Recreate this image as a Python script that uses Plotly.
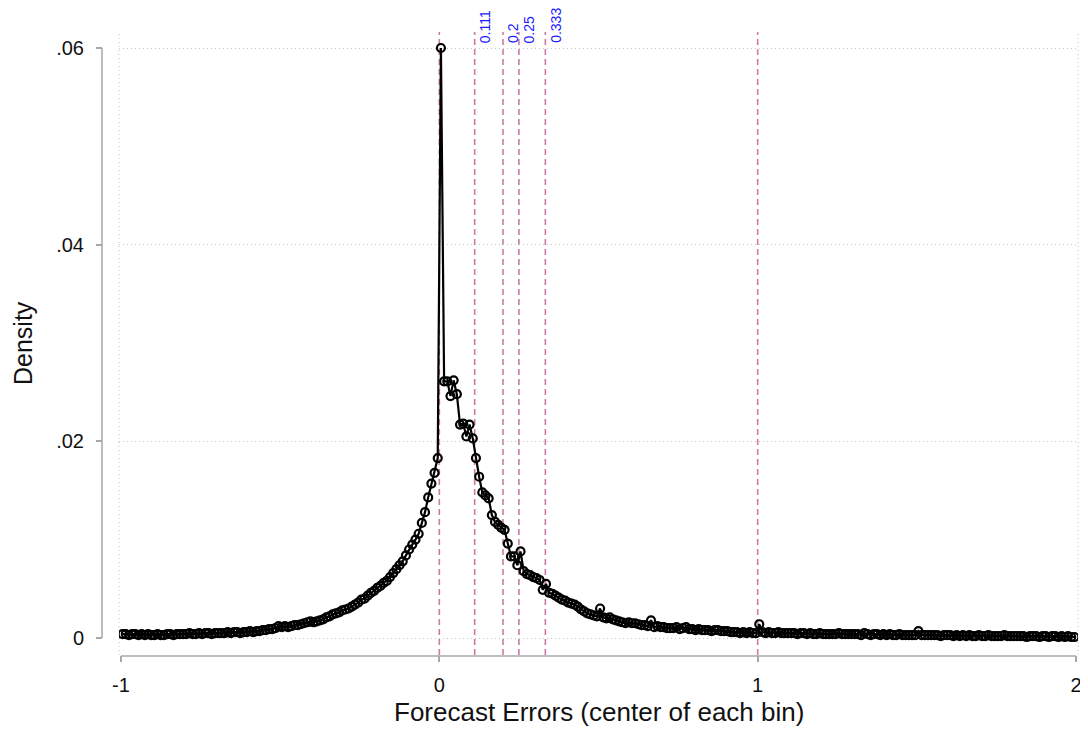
import plotly.graph_objects as go

# ---- data ----
bin_lo = -1.0
bin_width = 0.01

# density per bin, x from -0.995 to -0.005
density_neg = [
    0.0004, 0.0004, 0.0003, 0.0004, 0.0004, 0.0003, 0.0004, 0.0003, 0.0004, 0.0003,
    0.0003, 0.0004, 0.0003, 0.0003, 0.0004, 0.0004, 0.0003, 0.0004, 0.0004, 0.0004,
    0.0004, 0.0005, 0.0004, 0.0004, 0.0005, 0.0004, 0.0005, 0.0005, 0.0004, 0.0005,
    0.0005, 0.0005, 0.0005, 0.0006, 0.0005, 0.0006, 0.0006, 0.0005, 0.0006, 0.0006,
    0.0007, 0.0006, 0.0007, 0.0007, 0.0008, 0.0008, 0.0009, 0.0009, 0.0010, 0.0012,
    0.0011, 0.0012, 0.0011, 0.0012, 0.0013, 0.0013, 0.0014, 0.0015, 0.0016, 0.0017,
    0.0016, 0.0017, 0.0018, 0.0019, 0.0021, 0.0022, 0.0024, 0.0025, 0.0026, 0.0028,
    0.0029, 0.0030, 0.0032, 0.0034, 0.0036, 0.0039, 0.0040, 0.0043, 0.0046, 0.0048,
    0.0051, 0.0053, 0.0056, 0.0058, 0.0062, 0.0066, 0.0070, 0.0074, 0.0078, 0.0084,
    0.0090, 0.0095, 0.0100, 0.0106, 0.0117, 0.0128, 0.0143, 0.0157, 0.0168, 0.0183,
]

# density per bin, x from 0.005 to 1.995
density_pos = [
    0.0600, 0.0261, 0.0261, 0.0246, 0.0262, 0.0248, 0.0217, 0.0218, 0.0205, 0.0217,
    0.0203, 0.0183, 0.0164, 0.0148, 0.0145, 0.0142, 0.0125, 0.0118, 0.0115, 0.0112,
    0.0110, 0.0096, 0.0083, 0.0083, 0.0074, 0.0088, 0.0068, 0.0065, 0.0064, 0.0062,
    0.0061, 0.0059, 0.0049, 0.0055, 0.0046, 0.0045, 0.0043, 0.0041, 0.0039, 0.0038,
    0.0036, 0.0035, 0.0034, 0.0032, 0.0029, 0.0027, 0.0025, 0.0024, 0.0023, 0.0022,
    0.0030, 0.0021, 0.0020, 0.0021, 0.0019, 0.0018, 0.0017, 0.0016, 0.0015, 0.0016,
    0.0015, 0.0015, 0.0014, 0.0013, 0.0013, 0.0012, 0.0018, 0.0011, 0.0012, 0.0011,
    0.0011, 0.0010, 0.0010, 0.0010, 0.0011, 0.0009, 0.0010, 0.0011, 0.0009, 0.0009,
    0.0008, 0.0009, 0.0008, 0.0008, 0.0008, 0.0007, 0.0008, 0.0008, 0.0007, 0.0007,
    0.0007, 0.0006, 0.0006, 0.0006, 0.0005, 0.0006, 0.0005, 0.0006, 0.0005, 0.0005,
    0.0014, 0.0006, 0.0005, 0.0006, 0.0005, 0.0005, 0.0006, 0.0005, 0.0005, 0.0005,
    0.0005, 0.0005, 0.0004, 0.0005, 0.0005, 0.0004, 0.0005, 0.0004, 0.0004, 0.0005,
    0.0004, 0.0004, 0.0004, 0.0004, 0.0004, 0.0005, 0.0004, 0.0004, 0.0004, 0.0004,
    0.0004, 0.0004, 0.0003, 0.0005, 0.0004, 0.0003, 0.0004, 0.0004, 0.0003, 0.0004,
    0.0003, 0.0004, 0.0003, 0.0003, 0.0004, 0.0003, 0.0003, 0.0003, 0.0003, 0.0003,
    0.0007, 0.0003, 0.0003, 0.0003, 0.0003, 0.0003, 0.0003, 0.0002, 0.0003, 0.0003,
    0.0003, 0.0002, 0.0003, 0.0002, 0.0003, 0.0002, 0.0003, 0.0002, 0.0002, 0.0003,
    0.0002, 0.0002, 0.0003, 0.0002, 0.0002, 0.0002, 0.0002, 0.0003, 0.0002, 0.0002,
    0.0002, 0.0002, 0.0002, 0.0002, 0.0001, 0.0002, 0.0002, 0.0002, 0.0001, 0.0002,
    0.0002, 0.0001, 0.0002, 0.0002, 0.0001, 0.0002, 0.0001, 0.0002, 0.0001, 0.0001,
]

ref_lines = [0, 0.111, 0.2, 0.25, 0.333, 1]
ref_labels = ["0.111", "0.2", "0.25", "0.333"]
ref_label_pos = [0.111, 0.2, 0.25, 0.333]

x_ticks = [-1, 0, 1, 2]
x_ticktext = ["-1", "0", "1", "2"]
y_ticks = [0, 0.02, 0.04, 0.06]
y_ticktext = ["0", ".02", ".04", ".06"]

density = density_neg + density_pos
centers = [round(bin_lo + bin_width * (i + 0.5), 3) for i in range(len(density))]

# ---- geometry: page pixels (the page body has an 8px margin) ----
OFF = 8
W, H = 1076, 718
ML, MR, MT, MB = 60, 6, 20, 2
PW, PH = W - ML - MR, H - MT - MB
def px_x(p):
    return (p - OFF - ML) / PW
def px_y(p):
    return (H - MB - (p - OFF)) / PH

FONT = "Liberation Sans, Arial, Helvetica, sans-serif"
GRAY = "#a8a8a8"
GRID = "#c4c4c4"
PINK = "#cc7aa8"

fig = go.Figure()
fig.add_trace(go.Scatter(
    x=centers, y=density, mode="lines+markers",
    line=dict(color="black", width=2.2),
    marker=dict(symbol="circle-open", size=8, color="black",
                line=dict(color="black", width=2.2)),
    showlegend=False, hoverinfo="x+y",
))

shapes = []
# dotted frame lines at plot-region edges
for xd in (0, 1):
    shapes.append(dict(type="line", xref="x domain", yref="y domain",
                       x0=xd, x1=xd, y0=0, y1=1, layer="below",
                       line=dict(color=GRID, width=1, dash="1px,3px")))
# dashed reference lines
for v in ref_lines:
    shapes.append(dict(type="line", xref="x", yref="y domain",
                       x0=v, x1=v, y0=0, y1=1, layer="below",
                       line=dict(color=PINK, width=1.6, dash="6px,4px")))
# axis lines
shapes.append(dict(type="line", xref="paper", yref="y",
                   x0=px_x(102), x1=px_x(102), y0=0, y1=0.06,
                   line=dict(color=GRAY, width=1.5)))
shapes.append(dict(type="line", xref="x", yref="paper",
                   x0=-1, x1=2, y0=px_y(656), y1=px_y(656),
                   line=dict(color=GRAY, width=1.5)))

annotations = []
for v, t in zip(ref_label_pos, ref_labels):
    annotations.append(dict(x=v, y=0.06, xref="x", yref="y", text=t,
                            textangle=-90, showarrow=False,
                            xanchor="left", yanchor="bottom",
                            xshift=0, yshift=3,
                            font=dict(family=FONT, size=14, color="#1a1aff")))
annotations.append(dict(x=px_x(23), y=0.03, xref="paper", yref="y",
                        text="Density", textangle=-90, showarrow=False,
                        xanchor="center", yanchor="middle",
                        font=dict(family=FONT, size=25, color="#111")))
annotations.append(dict(x=0.5, y=px_y(712), xref="x", yref="paper",
                        text="Forecast Errors (center of each bin)",
                        showarrow=False, xanchor="center", yanchor="middle",
                        font=dict(family=FONT, size=26, color="#111")))

xpx = 955 / 3.0
ypx = 590 / 0.06
fig.update_layout(
    width=W, height=H,
    margin=dict(l=ML, r=MR, t=MT, b=MB, pad=0),
    paper_bgcolor="white", plot_bgcolor="white",
    font=dict(family=FONT, size=20, color="#111"),
    shapes=shapes, annotations=annotations,
    xaxis=dict(
        domain=[px_x(119), px_x(1078)],
        range=[-1 - 2 / xpx, 2 + 2 / xpx],
        tickvals=x_ticks, ticktext=x_ticktext,
        ticks="outside", ticklen=6, tickwidth=1.5, tickcolor=GRAY,
        showgrid=False, zeroline=False, showline=False,
        anchor="y", ticklabelstandoff=6, ticklabeloverflow="allow",
        tickfont=dict(family=FONT, size=20, color="#111"),
    ),
    yaxis=dict(
        domain=[px_y(655), px_y(32)],
        range=[-(655 - 638) / ypx, 0.06 + (48 - 32) / ypx],
        tickvals=y_ticks, ticktext=y_ticktext,
        ticks="outside", ticklen=6, tickwidth=1.5, tickcolor=GRAY,
        showgrid=True, gridcolor=GRID, griddash="1px,3px", gridwidth=1,
        zeroline=False, showline=False,
        anchor="free", position=px_x(102), ticklabelstandoff=8,
        tickfont=dict(family=FONT, size=20, color="#111"),
    ),
)

fig.write_html("out.html")
